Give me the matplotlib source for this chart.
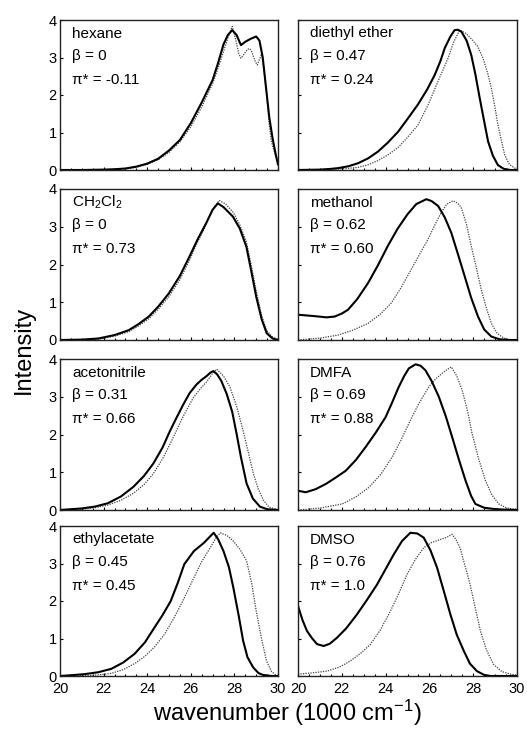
import matplotlib
matplotlib.use("Agg")
import matplotlib.pyplot as plt
from matplotlib.ticker import MultipleLocator

plt.rcParams['font.family'] = ['Liberation Sans', 'DejaVu Sans']
plt.rcParams['mathtext.fontset'] = 'custom'
plt.rcParams['mathtext.rm'] = 'Liberation Sans'
plt.rcParams['mathtext.it'] = 'Liberation Sans:italic'

# ---- data (wavenumber in 1000 cm-1, intensity) ----
hexane_solid_x = [20, 21, 22, 22.5, 23, 23.5, 24, 24.5, 25, 25.5, 26, 26.5, 27, 27.25, 27.5, 27.7, 27.9, 28.1, 28.3, 28.5, 28.75, 29.0, 29.15, 29.3, 29.45, 29.6, 29.75, 29.9, 30]
hexane_solid_y = [0, 0, 0.01, 0.02, 0.04, 0.09, 0.17, 0.3, 0.52, 0.8, 1.25, 1.8, 2.4, 2.85, 3.35, 3.6, 3.73, 3.6, 3.33, 3.42, 3.5, 3.56, 3.45, 3.0, 2.2, 1.4, 0.85, 0.4, 0.15]
hexane_dot_x = [20, 22, 23, 23.5, 24, 24.5, 25, 25.5, 26, 26.5, 27, 27.3, 27.55, 27.75, 27.9, 28.05, 28.2, 28.3, 28.45, 28.6, 28.7, 28.8, 28.95, 29.05, 29.15, 29.25, 29.35, 29.5, 29.6, 29.7, 29.85, 30]
hexane_dot_y = [0, 0.005, 0.03, 0.07, 0.15, 0.27, 0.47, 0.75, 1.15, 1.68, 2.3, 2.8, 3.25, 3.6, 3.83, 3.5, 3.1, 2.98, 3.1, 3.22, 3.24, 3.15, 2.9, 2.8, 2.95, 3.1, 2.7, 1.9, 1.2, 0.75, 0.45, 0.25]

ether_solid_x = [20, 21, 21.5, 21.83, 22.3, 22.74, 23.2, 23.65, 24.1, 24.57, 25.0, 25.48, 25.9, 26.24, 26.5, 26.7, 26.95, 27.15, 27.3, 27.46, 27.7, 27.91, 28.1, 28.3, 28.5, 28.68, 28.9, 29.13, 29.4, 29.7, 30]
ether_solid_y = [0, 0.01, 0.03, 0.05, 0.1, 0.18, 0.31, 0.49, 0.73, 1.02, 1.36, 1.75, 2.15, 2.53, 2.9, 3.25, 3.55, 3.73, 3.74, 3.69, 3.45, 3.07, 2.55, 1.91, 1.3, 0.76, 0.38, 0.13, 0.03, 0, 0]
ether_dot_x = [20, 21.5, 22.2, 22.74, 23.2, 23.65, 24.1, 24.57, 25.0, 25.48, 25.95, 26.39, 26.85, 27.1, 27.38, 27.65, 27.91, 28.2, 28.45, 28.65, 28.83, 29.0, 29.13, 29.3, 29.44, 29.65, 29.9, 30]
ether_dot_y = [0, 0.01, 0.04, 0.07, 0.14, 0.25, 0.4, 0.6, 0.87, 1.2, 1.75, 2.36, 2.98, 3.4, 3.73, 3.65, 3.5, 3.3, 2.98, 2.6, 2.18, 1.65, 1.2, 0.75, 0.4, 0.15, 0.05, 0.02]

ch2cl2_solid_x = [20, 21, 21.76, 22.5, 23.15, 23.6, 24.07, 24.5, 25.0, 25.5, 25.93, 26.3, 26.7, 27.0, 27.24, 27.5, 27.93, 28.25, 28.55, 28.8, 29.0, 29.25, 29.48, 29.75, 30]
ch2cl2_solid_y = [0, 0.01, 0.04, 0.13, 0.26, 0.42, 0.62, 0.88, 1.24, 1.7, 2.2, 2.65, 3.09, 3.45, 3.62, 3.52, 3.27, 2.95, 2.47, 1.75, 1.15, 0.55, 0.18, 0.04, 0]
ch2cl2_dot_x = [20, 21, 21.76, 22.5, 23.15, 23.6, 24.07, 24.5, 25.0, 25.5, 25.93, 26.3, 26.7, 27.0, 27.3, 27.6, 27.95, 28.25, 28.55, 28.8, 29.0, 29.25, 29.48, 29.75, 30]
ch2cl2_dot_y = [0, 0.005, 0.02, 0.1, 0.22, 0.37, 0.56, 0.81, 1.15, 1.6, 2.1, 2.58, 3.05, 3.45, 3.7, 3.6, 3.38, 3.05, 2.6, 1.9, 1.3, 0.65, 0.25, 0.08, 0.02]

methanol_solid_x = [20, 20.8, 21.3, 21.67, 22.0, 22.28, 22.7, 23.2, 23.65, 24.1, 24.55, 25.0, 25.4, 25.86, 26.1, 26.4, 26.7, 27.0, 27.3, 27.61, 27.9, 28.22, 28.5, 28.83, 29.2, 29.6, 30]
methanol_solid_y = [0.67, 0.63, 0.6, 0.62, 0.7, 0.8, 1.08, 1.51, 1.98, 2.49, 2.95, 3.33, 3.6, 3.73, 3.68, 3.55, 3.25, 2.84, 2.28, 1.69, 1.13, 0.62, 0.28, 0.09, 0.02, 0, 0]
methanol_dot_x = [20, 21, 21.83, 22.5, 23.2, 23.75, 24.26, 24.7, 25.17, 25.55, 25.94, 26.25, 26.54, 26.8, 27.08, 27.3, 27.46, 27.7, 27.91, 28.15, 28.37, 28.6, 28.83, 29.1, 29.4, 29.7, 30]
methanol_dot_y = [0, 0.05, 0.13, 0.26, 0.44, 0.68, 0.98, 1.38, 1.87, 2.27, 2.67, 3.05, 3.38, 3.6, 3.69, 3.62, 3.5, 3.05, 2.49, 1.9, 1.33, 0.85, 0.44, 0.17, 0.05, 0.01, 0]

acn_solid_x = [20, 20.97, 21.6, 22.2, 22.8, 23.36, 23.85, 24.28, 24.7, 25.05, 25.35, 25.66, 25.95, 26.27, 26.5, 26.73, 26.9, 27.03, 27.2, 27.4, 27.65, 27.9, 28.1, 28.3, 28.56, 28.85, 29.17, 29.5, 30]
acn_solid_y = [0, 0.04, 0.09, 0.18, 0.36, 0.61, 0.9, 1.23, 1.65, 2.1, 2.45, 2.8, 3.1, 3.33, 3.45, 3.55, 3.64, 3.68, 3.6, 3.42, 3.07, 2.6, 2.02, 1.4, 0.7, 0.3, 0.09, 0.02, 0]
acn_dot_x = [20, 21, 21.6, 22.2, 22.8, 23.36, 23.85, 24.28, 24.75, 25.2, 25.65, 26.12, 26.45, 26.73, 27.0, 27.19, 27.5, 27.8, 28.1, 28.4, 28.65, 28.87, 29.1, 29.33, 29.6, 30]
acn_dot_y = [0, 0.02, 0.06, 0.13, 0.26, 0.44, 0.67, 0.96, 1.4, 1.93, 2.48, 2.98, 3.22, 3.4, 3.62, 3.73, 3.55, 3.25, 2.75, 2.1, 1.5, 0.96, 0.55, 0.26, 0.07, 0.01]

dmfa_solid_x = [20, 20.35, 20.8, 21.27, 21.7, 22.18, 22.65, 23.09, 23.55, 24.0, 24.3, 24.6, 24.85, 25.06, 25.37, 25.6, 25.82, 26.1, 26.43, 26.75, 27.04, 27.35, 27.65, 27.9, 28.1, 28.5, 28.9, 29.4, 30]
dmfa_solid_y = [0.51, 0.47, 0.55, 0.69, 0.85, 1.04, 1.33, 1.67, 2.05, 2.46, 2.85, 3.26, 3.55, 3.75, 3.86, 3.82, 3.7, 3.42, 3.0, 2.48, 1.93, 1.33, 0.78, 0.38, 0.16, 0.06, 0.03, 0.01, 0]
dmfa_dot_x = [20, 21, 22.02, 22.65, 23.24, 23.8, 24.3, 24.7, 25.06, 25.5, 25.97, 26.3, 26.58, 26.8, 27.0, 27.25, 27.5, 27.75, 27.95, 28.25, 28.56, 28.85, 29.17, 29.5, 29.8, 30]
dmfa_dot_y = [0, 0.05, 0.16, 0.35, 0.6, 0.96, 1.4, 1.85, 2.29, 2.8, 3.26, 3.48, 3.62, 3.72, 3.79, 3.55, 3.17, 2.6, 2.02, 1.35, 0.78, 0.4, 0.16, 0.06, 0.03, 0.02]

ethyl_solid_x = [20, 20.5, 21.13, 21.75, 22.35, 22.9, 23.42, 23.9, 24.33, 24.7, 25.08, 25.4, 25.7, 26.14, 26.6, 26.85, 27.05, 27.25, 27.5, 27.75, 27.95, 28.2, 28.4, 28.6, 28.86, 29.1, 29.3, 29.7, 30]
ethyl_solid_y = [0, 0.02, 0.05, 0.1, 0.19, 0.36, 0.59, 0.9, 1.29, 1.62, 2.0, 2.48, 2.98, 3.33, 3.55, 3.7, 3.82, 3.65, 3.33, 2.9, 2.36, 1.6, 0.94, 0.5, 0.23, 0.08, 0.03, 0, 0]
ethyl_dot_x = [20, 21.13, 21.75, 22.35, 22.9, 23.42, 23.9, 24.33, 24.8, 25.24, 25.7, 26.14, 26.5, 26.89, 27.15, 27.35, 27.65, 27.95, 28.25, 28.56, 28.8, 29.0, 29.25, 29.47, 29.7, 29.9, 30]
ethyl_dot_y = [0, 0.01, 0.03, 0.07, 0.17, 0.33, 0.53, 0.77, 1.12, 1.56, 2.08, 2.62, 3.05, 3.42, 3.68, 3.82, 3.75, 3.6, 3.38, 3.07, 2.45, 1.74, 0.98, 0.41, 0.12, 0.03, 0.01]

dmso_solid_x = [20, 20.2, 20.41, 20.65, 20.87, 21.17, 21.45, 21.78, 22.2, 22.69, 23.15, 23.61, 24.0, 24.37, 24.75, 25.13, 25.45, 25.74, 26.05, 26.35, 26.65, 26.96, 27.25, 27.57, 27.85, 28.17, 28.5, 28.8, 30]
dmso_solid_y = [1.87, 1.5, 1.2, 1.0, 0.85, 0.8, 0.86, 1.02, 1.27, 1.64, 2.03, 2.44, 2.85, 3.24, 3.6, 3.82, 3.8, 3.69, 3.35, 2.89, 2.28, 1.64, 1.1, 0.67, 0.33, 0.13, 0.03, 0, 0]
dmso_dot_x = [20, 20.6, 21.32, 21.9, 22.39, 22.85, 23.3, 23.75, 24.22, 24.6, 24.98, 25.35, 25.74, 26.1, 26.5, 26.8, 27.03, 27.2, 27.4, 27.62, 27.86, 28.1, 28.33, 28.6, 28.93, 29.3, 29.7, 30]
dmso_dot_y = [0.05, 0.08, 0.13, 0.24, 0.4, 0.6, 0.84, 1.22, 1.73, 2.2, 2.71, 3.1, 3.42, 3.56, 3.64, 3.7, 3.78, 3.65, 3.42, 2.95, 2.44, 1.8, 1.2, 0.7, 0.31, 0.12, 0.05, 0.02]

names = ['hexane', 'diethyl ether', 'CH$_2$Cl$_2$', 'methanol',
         'acetonitrile', 'DMFA', 'ethylacetate', 'DMSO']
betas = ['0', '0.47', '0', '0.62', '0.31', '0.69', '0.45', '0.76']
pis = ['-0.11', '0.24', '0.73', '0.60', '0.66', '0.88', '0.45', '1.0']

solid = [(hexane_solid_x, hexane_solid_y), (ether_solid_x, ether_solid_y),
         (ch2cl2_solid_x, ch2cl2_solid_y), (methanol_solid_x, methanol_solid_y),
         (acn_solid_x, acn_solid_y), (dmfa_solid_x, dmfa_solid_y),
         (ethyl_solid_x, ethyl_solid_y), (dmso_solid_x, dmso_solid_y)]
dotted = [(hexane_dot_x, hexane_dot_y), (ether_dot_x, ether_dot_y),
          (ch2cl2_dot_x, ch2cl2_dot_y), (methanol_dot_x, methanol_dot_y),
          (acn_dot_x, acn_dot_y), (dmfa_dot_x, dmfa_dot_y),
          (ethyl_dot_x, ethyl_dot_y), (dmso_dot_x, dmso_dot_y)]

W, H = 527, 734
fig = plt.figure(figsize=(W / 100, H / 100), dpi=100)

cols = [(60, 278), (298, 517)]
rows = [(20, 170), (189, 340), (359, 510), (526, 676)]

for i in range(8):
    r, c = divmod(i, 2)
    x0, x1 = cols[c]
    y0, y1 = rows[r]
    ax = fig.add_axes([x0 / W, 1 - y1 / H, (x1 - x0) / W, (y1 - y0) / H])
    sx, sy = solid[i]
    dx, dy = dotted[i]
    ax.plot(dx, dy, color='#444444', lw=0.9, ls=(0, (1, 1)))
    ax.plot(sx, sy, color='black', lw=1.5)
    ax.set_xlim(20, 30)
    ax.set_ylim(0, 4)
    ax.xaxis.set_major_locator(MultipleLocator(2))
    ax.xaxis.set_minor_locator(MultipleLocator(0.5))
    ax.yaxis.set_major_locator(MultipleLocator(1))
    ax.tick_params(axis='both', which='both', direction='in', length=2.5,
                   width=0.8, labelsize=10.5, top=False, right=False)
    ax.tick_params(axis='y', pad=2.5)
    ax.tick_params(axis='x', pad=4.5)
    ax.tick_params(axis='x', which='minor', length=1.8)
    if r < 3:
        ax.tick_params(axis='x', labelbottom=False)
    if c == 1:
        ax.tick_params(axis='y', labelleft=False)
    for sp in ax.spines.values():
        sp.set_linewidth(1.0)
        sp.set_color('#222222')
    ax.text(0.055, 0.91, names[i], transform=ax.transAxes, fontsize=11,
            va='center', ha='left')
    ax.text(0.055, 0.76, '\u03b2 = ' + betas[i], transform=ax.transAxes,
            fontsize=11, va='center', ha='left')
    ax.text(0.055, 0.60, '\u03c0* = ' + pis[i], transform=ax.transAxes,
            fontsize=11, va='center', ha='left')

fig.text(287 / W, 1 - 713 / H, 'wavenumber (1000 cm$^{\\mathrm{-1}}$)', fontsize=17,
         ha='center', va='center')
fig.text(24 / W, 1 - 350 / H, 'Intensity', fontsize=17, rotation=90,
         ha='center', va='center')

fig.savefig('out.png', dpi=100)
